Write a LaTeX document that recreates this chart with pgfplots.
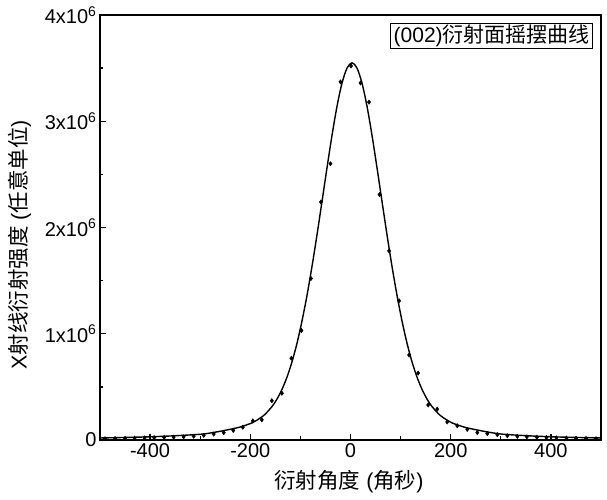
\documentclass[border=0pt]{standalone}
\usepackage{pgfplots}
\pgfplotsset{compat=1.18}
\usepackage{fontspec}
\setmainfont{Liberation Sans}
\newfontfamily\cjk{Noto Sans CJK SC}
\begin{document}
\begin{tikzpicture}
\path (-100pt,-60pt) rectangle (507pt,440pt);
\begin{axis}[
  at={(0,0)}, anchor=south west,
  scale only axis, width=501pt, height=425pt,
  xmin=-500, xmax=500, ymin=0, ymax=4,
  xtick={-400,-200,0,200,400},
  ytick={0,1,2,3,4},
  yticklabels={0,1x10\textsuperscript{6},2x10\textsuperscript{6},3x10\textsuperscript{6},4x10\textsuperscript{6}},
  minor tick num=1,
  tick align=inside,
  xtick pos=bottom, ytick pos=left,
  major tick length=6pt, minor tick length=3.5pt,
  every tick/.style={black, line width=1.3pt},
  axis line style={line width=2pt},
  /pgf/number format/assume math mode=true,
  tick label style={font=\fontsize{20}{22}\selectfont},
  xlabel={{\cjk 衍射角度} ({\cjk 角秒})},
  ylabel={X{\cjk 射线衍射强度} ({\cjk 任意单位})},
  label style={font=\fontsize{21.5}{24}\selectfont},
  xlabel style={at={(axis description cs:0.497,-0.099)}, anchor=center},
  ylabel style={at={(axis description cs:-0.160,0.459)}, anchor=center},
  clip=false,
]
% fitted curve
\addplot[black, line width=1.4pt, smooth] coordinates {
(-500,0.019) (-450,0.024) (-400,0.030) (-350,0.040) (-297,0.055) (-272,0.072)
(-247,0.094) (-222,0.120) (-197,0.160) (-187,0.186) (-172,0.236) (-157,0.313)
(-147,0.383) (-137,0.474) (-127,0.589) (-117,0.732) (-107,0.907) (-97,1.116)
(-87,1.357) (-77,1.629) (-67,1.927) (-57,2.241) (-47,2.559) (-37,2.865)
(-27,3.139) (-17,3.358) (-7,3.500) (3,3.550) (13,3.500) (23,3.358) (33,3.139) (43,2.865)
(53,2.559) (63,2.241) (73,1.927) (83,1.629) (93,1.357) (103,1.116) (113,0.907)
(123,0.732) (133,0.589) (143,0.474) (153,0.383) (163,0.313) (178,0.236)
(193,0.186) (203,0.160) (228,0.120) (253,0.094) (278,0.072) (303,0.055)
(353,0.040) (403,0.030) (453,0.024) (500,0.019)
};
% measured points
\addplot[only marks, mark=diamond*, mark size=2.2pt, black] coordinates {
(-490,0.012) (-470,0.014) (-450,0.016) (-431,0.018) (-411,0.020) (-392,0.022)
(-372,0.024) (-353,0.027) (-333,0.030) (-313,0.035) (-293,0.044) (-273,0.056)
(-253,0.070) (-234,0.090) (-215,0.120) (-195,0.180) (-177,0.190) (-157,0.370)
(-137,0.440) (-118,0.770) (-98,1.030) (-79,1.520) (-59,2.240) (-40,2.600)
(-20,3.370) (1,3.520) (20,3.360) (37,3.180) (58,2.310) (77,1.780) (97,1.310)
(117,0.800) (135,0.630) (155,0.330) (173,0.290) (193,0.170) (213,0.134)
(233,0.100) (253,0.070) (273,0.060) (293,0.050) (313,0.040) (333,0.034)
(352,0.030) (372,0.026) (391,0.023) (411,0.020) (431,0.018) (450,0.016)
(470,0.014) (490,0.012)
};
\node[draw, line width=0.6pt, anchor=north east, inner xsep=3pt, inner ysep=1.5pt,
  font=\fontsize{21}{23}\selectfont]
  at (axis description cs:0.984,0.981) {(002){\cjk 衍射面摇摆曲线}};
\end{axis}
\end{tikzpicture}
\end{document}
